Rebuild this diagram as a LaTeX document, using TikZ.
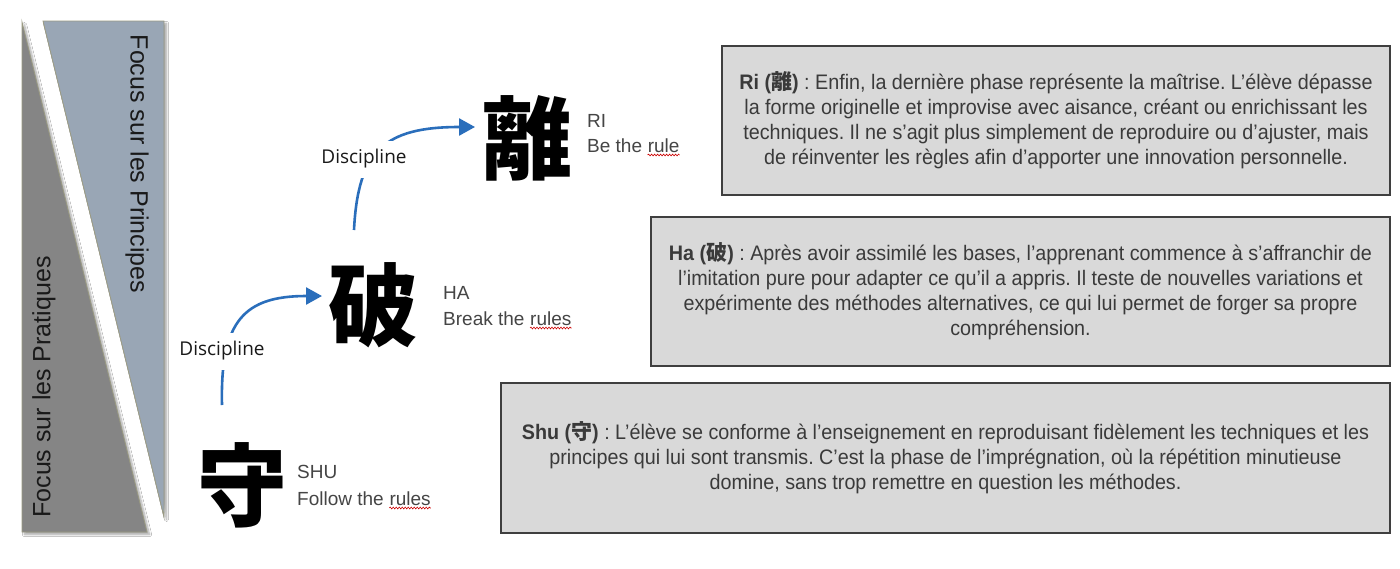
\documentclass[tikz,border=0pt]{standalone}
\usepackage{fontspec}
\setmainfont{Liberation Sans}
\newfontfamily\cjk{Noto Sans CJK JP}
\newfontfamily\boxfont{Liberation Sans}[FakeStretch=0.94]
\newfontfamily\discfont{Open Sans}
\usetikzlibrary{arrows.meta,shadows.blur,decorations.pathmorphing}
\frenchspacing
\definecolor{darktri}{HTML}{858585}
\definecolor{lighttri}{HTML}{99A6B5}
\definecolor{triedge}{HTML}{9A9A82}
\definecolor{boxfill}{HTML}{D9D9D9}
\definecolor{boxedge}{HTML}{3F3F3F}
\definecolor{boxtext}{HTML}{3A3A3A}
\definecolor{arrowblue}{HTML}{2A6EBB}
\definecolor{labeltext}{HTML}{454545}
\begin{document}
\begin{tikzpicture}[x=1pt,y=-1pt,
  tri/.style={draw=triedge, line width=0.8pt, blur shadow={shadow xshift=2.5pt, shadow yshift=-2.5pt, shadow blur steps=6, shadow opacity=35}},
  sidetext/.style={font=\fontsize{25}{30}\selectfont, text=black!90, inner sep=0pt},
  kanji/.style={font=\cjk\bfseries\fontsize{90}{90}\selectfont, inner sep=0pt, text=black},
  lbl/.style={font=\fontsize{19}{22}\selectfont, text=labeltext, inner sep=0pt, anchor=base west},
  disc/.style={font=\discfont\fontsize{19}{22}\selectfont, text=black!90, fill=white, inner xsep=3pt, inner ysep=9pt},
  arr/.style={draw=arrowblue, line width=2.6pt, -{Triangle[length=16pt,width=17pt]}},
  wavy/.style={draw=red!80!black, line width=0.6pt, decorate, decoration={snake, amplitude=0.9pt, segment length=3pt}},
  infobox/.style={draw=boxedge, line width=2pt, fill=boxfill, text=boxtext, align=center,
     font=\boxfont\fontsize{21}{25}\selectfont, inner sep=0pt}
]
\useasboundingbox (0,0) rectangle (1400,568);
\fill[white] (0,0) rectangle (1400,568);

% side triangles
\path[tri, fill=darktri] (22,22) -- (22,532) -- (147,532) -- cycle;
\path[tri, fill=lighttri] (43,21) -- (164,21) -- (164,517) -- cycle;
\node[sidetext, rotate=-90] (princ) at (137,164) {Focus sur les Principes};
\node[sidetext, rotate=90] (prat) at (44,387) {Focus sur les Pratiques};

% kanji
\node[kanji] (shu) at (242,485) {守};
\node[kanji] (ha) at (373,305) {破};
\node[kanji] (ri) at (527,138) {離};

% labels
\node[lbl] (shuA) at (297,478) {SHU};
\node[lbl] (shuB) at (297,505) {Follow the};
\node[lbl, xshift=5.3pt] (shuC) at (shuB.base east) {rules};
\node[lbl] (haA) at (443,299) {HA};
\node[lbl] (haB) at (443,325) {Break the};
\node[lbl, xshift=5.3pt] (haC) at (haB.base east) {rules};
\node[lbl] (riA) at (587,127) {RI};
\node[lbl] (riB) at (587,152) {Be the};
\node[lbl, xshift=5.3pt] (riC) at (riB.base east) {rule};
\draw[wavy] ([yshift=-3pt]shuC.base west) -- ([yshift=-3pt]shuC.base east);
\draw[wavy] ([yshift=-3pt]haC.base west) -- ([yshift=-3pt]haC.base east);
\draw[wavy] ([yshift=-3pt]riC.base west) -- ([yshift=-3pt]riC.base east);

% arrows
\coordinate (a1s) at (222,405);
\coordinate (a1e) at (322,296);
\coordinate (a2s) at (354,230);
\coordinate (a2e) at (475,127);
\draw[arr] (a1s) .. controls (220,320) and (245,296) .. (a1e);
\draw[arr] (a2s) .. controls (358,150) and (385,127) .. (a2e);
\node[disc] (d1) at (222,351) {Discipline};
\node[disc] (d2) at (364,159) {Discipline};

% info boxes
\node[infobox, minimum width=668pt, minimum height=149pt] (riBox) at (1056,120) {%
{\bfseries Ri ({\cjk 離})} : Enfin, la dernière phase représente la maîtrise. L’élève dépasse\\
la forme originelle et improvise avec aisance, créant ou enrichissant les\\
techniques. Il ne s’agit plus simplement de reproduire ou d’ajuster, mais\\
de réinventer les règles afin d’apporter une innovation personnelle.};
\node[infobox, minimum width=739pt, minimum height=149pt] (haBox) at (1020.5,291.5) {%
{\bfseries Ha ({\cjk 破})} : Après avoir assimilé les bases, l’apprenant commence à s’affranchir de\\
l’imitation pure pour adapter ce qu’il a appris. Il teste de nouvelles variations et\\
expérimente des méthodes alternatives, ce qui lui permet de forger sa propre\\
compréhension.};
\node[infobox, minimum width=889pt, minimum height=150pt] (shuBox) at (945.5,458) {%
{\bfseries Shu ({\cjk 守})} : L’élève se conforme à l’enseignement en reproduisant fidèlement les techniques et les\\
principes qui lui sont transmis. C’est la phase de l’imprégnation, où la répétition minutieuse\\
domine, sans trop remettre en question les méthodes.};
\end{tikzpicture}
\end{document}
